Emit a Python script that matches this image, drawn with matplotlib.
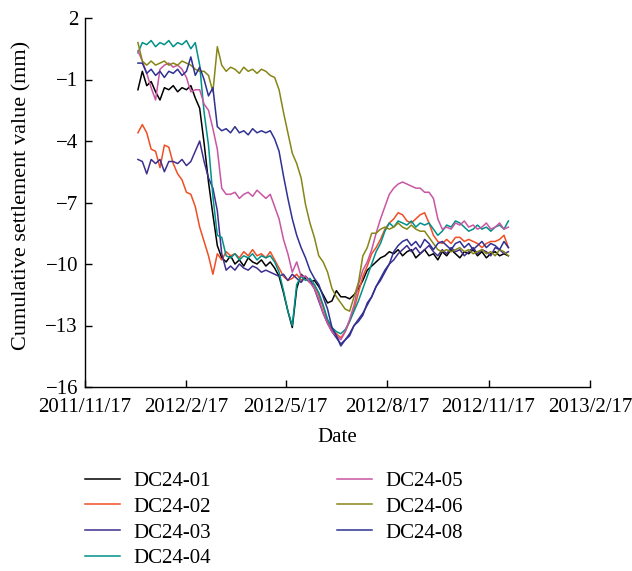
import matplotlib
matplotlib.use("Agg")
import matplotlib.pyplot as plt
import pandas as pd

plt.rcParams['font.family'] = ['Liberation Serif', 'DejaVu Serif']

# sample dates (every 4 days)
dates = pd.date_range("2012-01-04", periods=85, freq="4D")

dc01 = [-1.5, -0.6, -1.3, -1.1, -1.6, -2.0, -1.4, -1.5, -1.3, -1.6,
        -1.4, -1.5, -1.3, -1.9, -2.4, -4.1, -6.0, -7.6, -9.1, -9.7,
        -9.9, -9.6, -10.0, -9.8, -10.1, -9.7, -9.9, -10.0, -9.8, -10.1,
        -9.9, -10.2, -10.6, -11.4, -12.3, -13.1, -11.2, -10.5, -10.7, -10.9,
        -10.8, -11.1, -11.5, -11.9, -11.8, -11.3, -11.6, -11.6, -11.7, -11.5,
        -11.2, -10.8, -10.3, -10.1, -9.9, -9.7, -9.6, -9.4, -9.5, -9.3,
        -9.6, -9.4, -9.3, -9.7, -9.5, -9.3, -9.6, -9.5, -9.8, -9.4,
        -9.6, -9.3, -9.5, -9.7, -9.4, -9.5, -9.3, -9.6, -9.4, -9.7,
        -9.5, -9.4, -9.6, -9.5, -9.6]

dc02 = [-3.6, -3.2, -3.6, -4.4, -4.5, -5.3, -4.2, -4.3, -5.1, -5.6,
        -5.9, -6.5, -6.6, -7.2, -8.2, -8.9, -9.6, -10.5, -9.5, -9.8,
        -9.4, -9.6, -9.5, -9.7, -9.4, -9.6, -9.3, -9.6, -9.5, -9.7,
        -9.4, -9.8, -10.2, -10.6, -10.8, -10.7, -10.5, -10.8, -10.6, -10.9,
        -11.0, -11.5, -12.1, -12.8, -13.2, -13.4, -13.6, -13.3, -12.8, -12.2,
        -11.4, -10.6, -10.1, -9.5, -9.2, -8.8, -8.3, -8.0, -7.8, -7.5,
        -7.6, -7.9, -8.0, -7.8, -7.6, -7.5, -8.0, -8.6, -8.9, -9.0,
        -8.8, -9.0, -8.7, -8.7, -8.9, -8.8, -8.9, -9.0, -9.2, -9.0,
        -8.9, -8.9, -8.8, -8.6, -9.2]

dc03 = [-4.9, -5.0, -5.6, -4.9, -5.1, -4.9, -5.5, -5.0, -5.0, -5.1,
        -4.9, -5.2, -5.0, -4.5, -4.0, -5.0, -5.8, -6.3, -7.4, -9.5,
        -10.3, -10.1, -10.3, -10.0, -10.2, -10.3, -10.1, -10.2, -10.4, -10.3,
        -10.4, -10.5, -10.6, -10.5, -10.8, -10.5, -10.7, -10.9, -10.6, -10.8,
        -11.2, -11.8, -12.4, -12.9, -13.3, -13.6, -13.9, -13.7, -13.4, -13.0,
        -12.7, -12.4, -12.0, -11.6, -11.1, -10.8, -10.4, -10.0, -9.8, -9.5,
        -9.3, -9.1, -9.4, -9.2, -9.5, -9.3, -9.1, -9.4, -9.6, -9.3,
        -9.5, -9.2, -9.4, -9.3, -9.6, -9.4, -9.2, -9.5, -9.3, -9.4,
        -9.6, -9.2, -9.3, -9.5, -9.4]

dc04 = [0.3, 0.8, 0.7, 0.9, 0.6, 0.8, 0.7, 0.9, 0.6, 0.8,
        0.7, 0.9, 0.5, 0.8, -0.3, -2.6, -4.2, -6.7, -8.6, -8.7,
        -9.6, -9.7, -9.5, -9.8, -9.6, -9.7, -9.5, -9.8, -9.6, -9.7,
        -9.6, -9.9, -10.4, -11.3, -12.3, -13.0, -11.0, -10.6, -10.8, -10.7,
        -11.0, -11.4, -12.0, -12.7, -13.1, -13.3, -13.4, -13.2, -12.8, -12.3,
        -11.8, -11.2, -10.6, -10.0, -9.4, -9.0, -8.4, -8.0, -8.2, -7.9,
        -8.0, -8.1, -7.9, -8.2, -8.0, -8.1, -8.0, -8.3, -8.6, -8.4,
        -8.1, -8.2, -7.9, -8.0, -8.2, -8.4, -8.3, -8.1, -8.3, -8.2,
        -8.4, -8.2, -8.1, -8.3, -7.9]

dc05 = [0.4, -0.1, -0.7, -1.4, -2.0, -0.5, -0.3, -0.2, -0.4, -0.3,
        -0.5, -0.9, -1.6, -1.5, -1.5, -2.2, -2.5, -3.4, -4.4, -6.3,
        -6.6, -6.6, -6.5, -6.8, -6.6, -6.5, -6.7, -6.4, -6.6, -6.8,
        -6.6, -7.2, -7.8, -8.8, -9.5, -10.4, -9.9, -10.6, -10.6, -10.9,
        -11.2, -11.7, -12.4, -12.9, -13.3, -13.5, -13.7, -13.3, -12.7, -12.0,
        -11.0, -10.3, -9.9, -9.3, -8.5, -7.8, -7.2, -6.6, -6.3, -6.1,
        -6.0, -6.1, -6.2, -6.3, -6.3, -6.5, -6.5, -6.8, -7.8, -8.3,
        -8.2, -8.3, -8.0, -8.1, -7.9, -8.2, -8.1, -8.3, -8.2, -8.0,
        -8.3, -8.2, -8.0, -8.3, -8.2]

dc06 = [0.8, -0.1, -0.3, -0.1, -0.3, -0.2, -0.1, -0.3, -0.2, -0.3,
        -0.1, -0.2, -0.3, -0.5, -0.6, -0.6, -0.8, -1.6, 0.6, -0.3,
        -0.6, -0.4, -0.5, -0.7, -0.4, -0.6, -0.5, -0.7, -0.5, -0.6,
        -0.8, -0.9, -1.5, -2.6, -3.6, -4.6, -5.1, -5.8, -7.1, -8.0,
        -8.7, -9.6, -9.9, -10.4, -11.2, -11.6, -11.9, -12.2, -12.3, -11.6,
        -10.9, -9.6, -9.2, -8.5, -8.5, -8.3, -8.2, -8.3, -8.2, -8.0,
        -8.2, -8.3, -8.1, -8.3, -8.4, -8.4, -8.7, -9.0, -9.3, -9.4,
        -9.3, -9.4, -9.3, -9.2, -9.4, -9.3, -9.5, -9.4, -9.3, -9.5,
        -9.4, -9.6, -9.3, -9.4, -9.6]

dc08 = [-0.2, -0.2, -0.7, -0.5, -0.8, -0.6, -0.9, -0.6, -0.7, -0.5,
        -0.8, -0.6, 0.1, -0.8, -0.4, -1.0, -1.8, -1.4, -3.3, -3.5,
        -3.4, -3.6, -3.3, -3.6, -3.5, -3.7, -3.4, -3.6, -3.5, -3.6,
        -3.5, -3.9, -4.5, -5.7, -6.8, -7.8, -8.6, -9.2, -9.7, -10.3,
        -10.7, -11.0, -11.6, -12.2, -13.1, -13.5, -14.0, -13.7, -13.5, -13.0,
        -12.8, -12.5, -11.9, -11.6, -11.1, -10.7, -10.3, -10.0, -9.4, -9.1,
        -8.9, -8.8, -9.1, -8.9, -9.2, -8.8, -9.0, -9.3, -9.0, -8.9,
        -9.1, -9.3, -9.0, -8.9, -9.2, -9.0, -9.3, -9.1, -8.9, -9.2,
        -9.0, -9.1, -9.3, -8.9, -9.2]

series = [
    ("DC24-01", dc01, "#000000"),
    ("DC24-02", dc02, "#F04E23"),
    ("DC24-03", dc03, "#3F2E8E"),
    ("DC24-04", dc04, "#00918A"),
    ("DC24-05", dc05, "#C955A3"),
    ("DC24-06", dc06, "#868616"),
    ("DC24-08", dc08, "#2E3192"),
]

tick_dates = ["2011-11-17", "2012-02-17", "2012-05-17", "2012-08-17",
              "2012-11-17", "2013-02-17"]
tick_labels = ["2011/11/17", "2012/2/17", "2012/5/17", "2012/8/17",
               "2012/11/17", "2013/2/17"]
y_ticks = [2, -1, -4, -7, -10, -13, -16]

fig = plt.figure(figsize=(6.32, 5.71), dpi=100)
ax = fig.add_axes([85/632, 1-387/571, (590-85)/632, (387-18)/571])

for name, vals, col in series:
    ax.plot(dates, vals, color=col, lw=1.1, label=name)

ax.set_xlim(pd.Timestamp(tick_dates[0]), pd.Timestamp(tick_dates[-1]))
ax.set_ylim(-16, 2)
ax.set_xticks([pd.Timestamp(d) for d in tick_dates])
ax.set_xticklabels(tick_labels)
ax.set_yticks(y_ticks)
for s in ["top", "right"]:
    ax.spines[s].set_visible(False)
for s in ["left", "bottom"]:
    ax.spines[s].set_linewidth(1.0)
ax.tick_params(direction="in", length=5, width=1.0, labelsize=15)
ax.tick_params(axis="x", pad=8)
ax.tick_params(axis="y", pad=5)
ax.set_xlabel("Date", fontsize=15, labelpad=8)
ax.set_ylabel("Cumulative settlement value (mm)", fontsize=16)
ax.yaxis.set_label_coords(-0.105, 0.52)

leg = ax.legend(loc="upper left", bbox_to_anchor=(77/632, 1-463/571),
                bbox_transform=fig.transFigure, ncol=2, frameon=False,
                fontsize=15, handlelength=1.68, handletextpad=0.63,
                columnspacing=6.05, labelspacing=0.3, borderaxespad=0)

fig.savefig("out.png", dpi=100)
